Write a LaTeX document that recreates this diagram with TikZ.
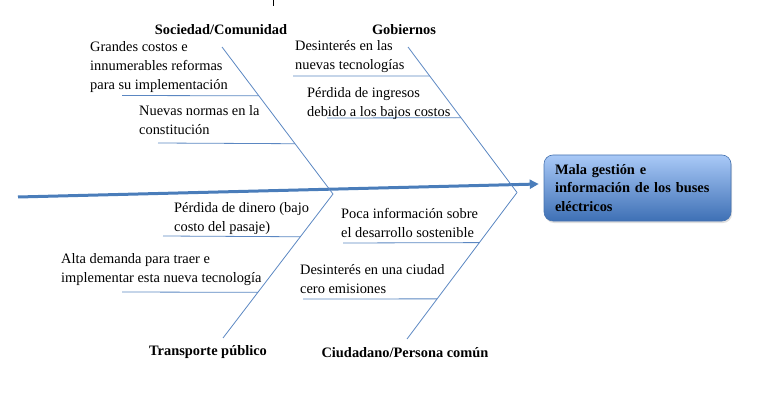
\documentclass[tikz,border=0pt]{standalone}
\usepackage{fontspec}
\setmainfont{Liberation Serif}
\usetikzlibrary{calc,arrows.meta,shadows}
\definecolor{bone}{HTML}{5B87C2}
\definecolor{spine}{HTML}{4A7DBA}
\definecolor{boxtop}{HTML}{A9C9F7}
\definecolor{boxbot}{HTML}{3E70B5}
\definecolor{boxline}{HTML}{4673B0}
\begin{document}
\begin{tikzpicture}[x=1pt,y=-1pt,
  txt/.style={anchor=west,inner sep=0pt,align=left,font=\fontsize{14.4}{19}\selectfont},
  cat/.style={inner sep=0pt,font=\fontsize{14.4}{17}\selectfont\bfseries},
  bonel/.style={draw=bone,line width=0.8pt},
  spinel/.style={draw=spine,line width=3pt,-{Triangle[length=9pt,width=9pt]}},
  effbox/.style={rounded corners=9pt,draw=boxline,line width=0.6pt,top color=boxtop,bottom color=boxbot,
     minimum width=187pt,minimum height=66pt,inner xsep=11pt,text width=165pt,align=left,
     font=\fontsize{14.4}{18.5}\selectfont\bfseries,
     drop shadow={opacity=0.25,shadow xshift=1pt,shadow yshift=-2pt}}]
\useasboundingbox (0,0) rectangle (758,409);
% small tick at top
\coordinate (tk1) at (273,0);
\coordinate (tk2) at (273,6);
\draw[black,line width=0.8pt] (tk1) -- (tk2);
% effect box
\node[effbox] (eff) at (637.5,188) {Mala gestión e\\información de los buses\\eléctricos};
% spine
\coordinate (tail) at (18,197);
\coordinate (J1) at (333,194);
\coordinate (J2) at (517,192.5);
\draw[spinel] (tail) -- ([xshift=-5pt,yshift=4pt]eff.west);
% heads of bones
\coordinate (sH) at (222,47);
\coordinate (gH) at (408,47);
\coordinate (tH) at (223,338);
\coordinate (cH) at (407,339);
\draw[bonel] (sH) -- (J1);
\draw[bonel] (gH) -- (J2);
\draw[bonel] (tH) -- (J1);
\draw[bonel] (cH) -- (J2);
% sub-bones
\coordinate (s1L) at (122,95.5);
\coordinate (s2L) at (158,143);
\coordinate (g1L) at (293,76);
\coordinate (g2L) at (327,118);
\coordinate (t1L) at (163,236);
\coordinate (t2L) at (122,292);
\coordinate (c1L) at (343,243);
\coordinate (c2L) at (303,299);
\draw[bonel] (s1L) -- ($(sH)!0.332!(J1)$);
\draw[bonel] (s2L) -- ($(sH)!0.658!(J1)$);
\draw[bonel] (g1L) -- ($(gH)!0.199!(J2)$);
\draw[bonel] (g2L) -- ($(gH)!0.486!(J2)$);
\draw[bonel] (t1L) -- ($(J1)!0.297!(tH)$);
\draw[bonel] (t2L) -- ($(J1)!0.683!(tH)$);
\draw[bonel] (c1L) -- ($(J2)!0.342!(cH)$);
\draw[bonel] (c2L) -- ($(J2)!0.726!(cH)$);
% category labels
\node[cat] (lsoc) at (221,30) {Sociedad/Comunidad};
\node[cat] (lgob) at (404,30) {Gobiernos};
\node[cat] (ltra) at (208,352) {Transporte público};
\node[cat] (lciu) at (405,353) {Ciudadano/Persona común};
% cause texts
\node[txt] (ts1) at (90,67) {Grandes costos e\\innumerables reformas\\para su implementación};
\node[txt] (ts2) at (139,120) {Nuevas normas en la\\constitución};
\node[txt] (tg1) at (295,57) {Desinterés en las\\nuevas tecnologías};
\node[txt] (tg2) at (307,103.5) {Pérdida de ingresos\\debido a los bajos costos};
\node[txt] (tt1) at (174,218.5) {Pérdida de dinero (bajo\\costo del pasaje)};
\node[txt] (tt2) at (61,269.5) {Alta demanda para traer e\\implementar esta nueva tecnología};
\node[txt] (tc1) at (341,223) {Poca información sobre\\el desarrollo sostenible};
\node[txt] (tc2) at (300,279.5) {Desinterés en una ciudad\\cero emisiones};
\end{tikzpicture}
\end{document}
